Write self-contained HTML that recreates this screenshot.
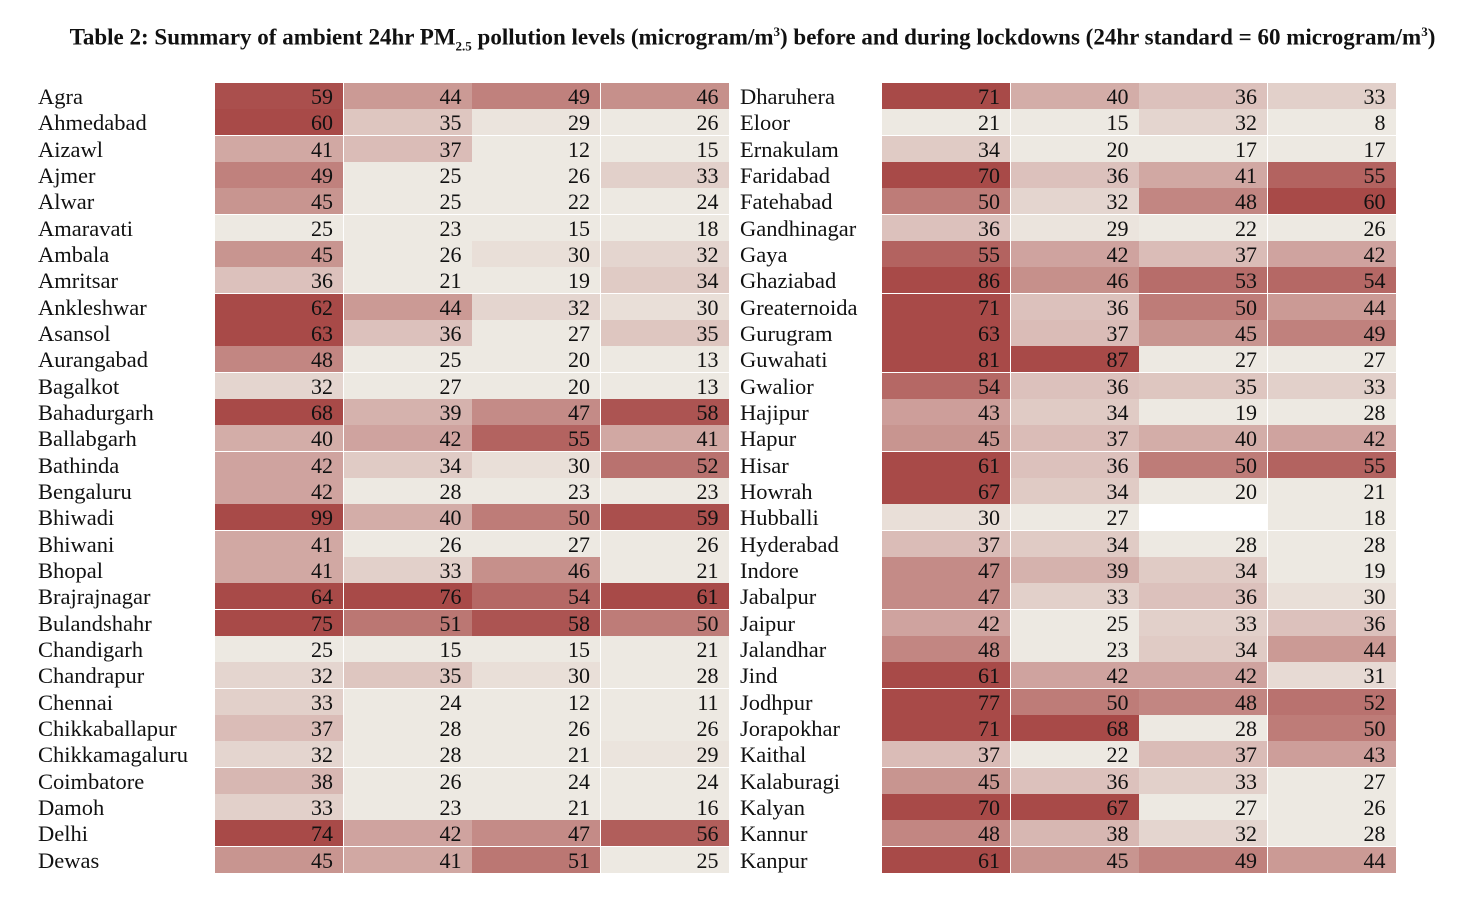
<!DOCTYPE html>
<html><head><meta charset="utf-8">
<style>
html,body{margin:0;padding:0;background:#fff;width:1472px;height:920px;overflow:hidden;font-family:"Liberation Serif",serif;}
#title{position:absolute;left:0;width:1505px;top:24px;text-align:center;font-weight:bold;font-size:23px;color:#111;white-space:nowrap;}
#title sub{font-size:13px;}
#title sup{font-size:13px;}
.name{position:absolute;font-size:22.5px;color:#111;line-height:26px;white-space:nowrap;}
.cell{position:absolute;font-size:22px;color:#111;text-align:right;box-sizing:border-box;padding-right:10px;line-height:26px;}
</style></head><body>
<div id="title">Table 2: Summary of ambient 24hr PM<sub>2.5</sub> pollution levels (microgram/m<sup>3</sup>) before and during lockdowns (24hr standard = 60 microgram/m<sup>3</sup>)</div>
<div id="root"></div>
<script>
const leftCities=["Agra","Ahmedabad","Aizawl","Ajmer","Alwar","Amaravati","Ambala","Amritsar","Ankleshwar","Asansol","Aurangabad","Bagalkot","Bahadurgarh","Ballabgarh","Bathinda","Bengaluru","Bhiwadi","Bhiwani","Bhopal","Brajrajnagar","Bulandshahr","Chandigarh","Chandrapur","Chennai","Chikkaballapur","Chikkamagaluru","Coimbatore","Damoh","Delhi","Dewas"];
const leftValues=[[59,44,49,46],[60,35,29,26],[41,37,12,15],[49,25,26,33],[45,25,22,24],[25,23,15,18],[45,26,30,32],[36,21,19,34],[62,44,32,30],[63,36,27,35],[48,25,20,13],[32,27,20,13],[68,39,47,58],[40,42,55,41],[42,34,30,52],[42,28,23,23],[99,40,50,59],[41,26,27,26],[41,33,46,21],[64,76,54,61],[75,51,58,50],[25,15,15,21],[32,35,30,28],[33,24,12,11],[37,28,26,26],[32,28,21,29],[38,26,24,24],[33,23,21,16],[74,42,47,56],[45,41,51,25]];
const rightCities=["Dharuhera","Eloor","Ernakulam","Faridabad","Fatehabad","Gandhinagar","Gaya","Ghaziabad","Greaternoida","Gurugram","Guwahati","Gwalior","Hajipur","Hapur","Hisar","Howrah","Hubballi","Hyderabad","Indore","Jabalpur","Jaipur","Jalandhar","Jind","Jodhpur","Jorapokhar","Kaithal","Kalaburagi","Kalyan","Kannur","Kanpur"];
const rightValues=[[71,40,36,33],[21,15,32,8],[34,20,17,17],[70,36,41,55],[50,32,48,60],[36,29,22,26],[55,42,37,42],[86,46,53,54],[71,36,50,44],[63,37,45,49],[81,87,27,27],[54,36,35,33],[43,34,19,28],[45,37,40,42],[61,36,50,55],[67,34,20,21],[30,27,null,18],[37,34,28,28],[47,39,34,19],[47,33,36,30],[42,25,33,36],[48,23,34,44],[61,42,42,31],[77,50,48,52],[71,68,28,50],[37,22,37,43],[45,36,33,27],[70,67,27,26],[48,38,32,28],[61,45,49,44]];
const lo=[237,233,226], hi=[168,74,72];
function color(v){
  if(v===null) return '#ffffff';
  let t=Math.max(0,Math.min(1,(v-28)/32));
  return 'rgb('+lo.map((c,i)=>Math.round(c+(hi[i]-c)*t)).join(',')+')';
}
const root=document.getElementById('root');
const top0=83, rowH=26.33, colW=128.5;
function draw(cities,values,nameX,cellX){
  cities.forEach((c,r)=>{
    const y=top0+r*rowH;
    const n=document.createElement('div');
    n.className='name';
    
    
    n.style.left=nameX+'px'; n.style.top=(y+1)+'px';
    n.textContent=c; root.appendChild(n);
    values[r].forEach((v,k)=>{
      const d=document.createElement('div');
      d.className='cell';
      
      
      d.style.left=(cellX+k*colW)+'px'; d.style.top=y+'px';
      d.style.width=(colW-0.5)+'px'; d.style.height=(rowH-0.3)+'px';
      d.style.background=color(v);
      d.style.paddingTop='1px';
      d.textContent=v===null?'':v;
      root.appendChild(d);
    });
  });
}
draw(leftCities,leftValues,38,215);
draw(rightCities,rightValues,740,882);
</script>
</body></html>
